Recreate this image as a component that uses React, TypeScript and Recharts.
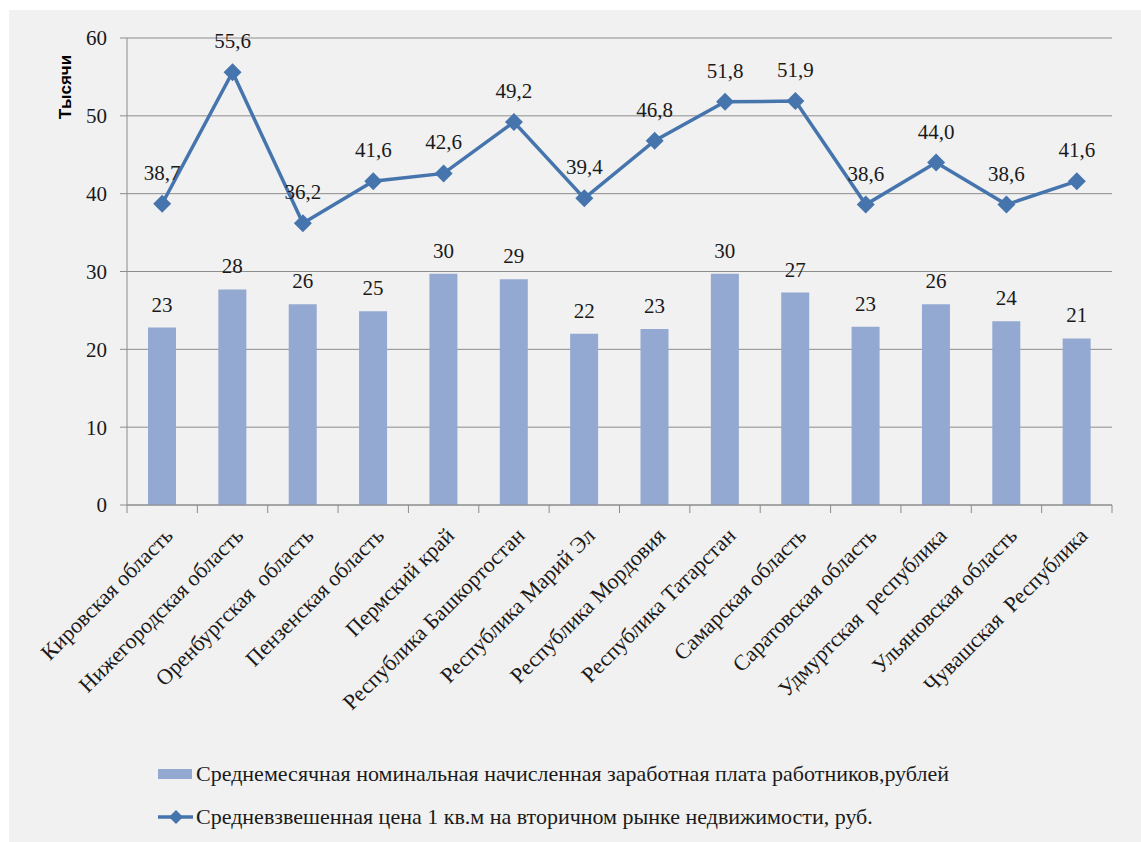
import React from "react";
import {
  ComposedChart,
  Bar,
  Line,
  XAxis,
  YAxis,
  CartesianGrid,
  Legend,
  LabelList,
} from "recharts";

const regions = [
  "Кировская область",
  "Нижегородская область",
  "Оренбургская  область",
  "Пензенская область",
  "Пермский край",
  "Республика Башкортостан",
  "Республика Марий Эл",
  "Республика Мордовия",
  "Республика Татарстан",
  "Самарская область",
  "Саратовская область",
  "Удмуртская  республика",
  "Ульяновская область",
  "Чувашская  Республика",
];

// тыс. руб.
const salary = [22.8, 27.7, 25.8, 24.9, 29.7, 29.0, 22.0, 22.6, 29.7, 27.3, 22.9, 25.8, 23.6, 21.4];
const pricePerSqm = [38.7, 55.6, 36.2, 41.6, 42.6, 49.2, 39.4, 46.8, 51.8, 51.9, 38.6, 44.0, 38.6, 41.6];

const yTicks = [0, 10, 20, 30, 40, 50, 60];

const salaryName =
  "Среднемесячная номинальная начисленная заработная плата работников,рублей";
const priceName =
  "Средневзвешенная цена 1 кв.м на вторичном рынке недвижимости, руб.";

const data = regions.map((region, i) => ({
  region,
  salary: salary[i],
  price: pricePerSqm[i],
}));

const BAR_COLOR = "#93a9d1";
const LINE_COLOR = "#4675ad";
const GRID_COLOR = "#8c8c8c";
const SERIF = "Liberation Serif, Times New Roman, serif";

const Diamond = (props: any) => {
  const { cx, cy } = props;
  if (cx == null || cy == null) return null;
  const r = 9;
  return (
    <path
      d={`M${cx},${cy - r}L${cx + r},${cy}L${cx},${cy + r}L${cx - r},${cy}Z`}
      fill={LINE_COLOR}
      stroke="none"
    />
  );
};

const RegionTick = (props: any) => {
  const { x, y, payload, index, visibleTicksCount, width } = props;
  const half = width / visibleTicksCount / 2;
  const top = y - 8;
  const tx = x + 12;
  const ty = y + 24;
  return (
    <g>
      <line x1={x - half} x2={x - half} y1={top} y2={top + 8} stroke={GRID_COLOR} />
      {index === visibleTicksCount - 1 && (
        <line x1={x + half} x2={x + half} y1={top} y2={top + 8} stroke={GRID_COLOR} />
      )}
      <text
        x={tx}
        y={ty}
        transform={`rotate(-45, ${tx}, ${ty})`}
        textAnchor="end"
        style={{ fontFamily: SERIF, fontSize: 22, fill: "#1a1a1a", whiteSpace: "pre" }}
      >
        {payload.value}
      </text>
    </g>
  );
};

const YLabel = (props: any) => {
  const { viewBox } = props;
  const x = viewBox.x + 56;
  const y = viewBox.y + 49;
  return (
    <text
      x={x}
      y={y}
      transform={`rotate(-90, ${x}, ${y})`}
      textAnchor="middle"
      dominantBaseline="central"
      style={{
        fontFamily: "Liberation Sans, Arial, sans-serif",
        fontWeight: "bold",
        fontSize: 17,
        fill: "#000",
      }}
    >
      Тысячи
    </text>
  );
};

const LegendBox = () => (
  <div style={{ fontFamily: SERIF, fontSize: 22, color: "#1a1a1a" }}>
    <div style={{ display: "flex", alignItems: "center", height: 43 }}>
      <svg width={38} height={20}>
        <rect x={0} y={5} width={34} height={10} fill={BAR_COLOR} />
      </svg>
      <span>{salaryName}</span>
    </div>
    <div style={{ display: "flex", alignItems: "center", height: 43 }}>
      <svg width={38} height={20}>
        <line x1={0} x2={35} y1={10} y2={10} stroke={LINE_COLOR} strokeWidth={3.5} />
        <path d="M18,3L25,10L18,17L11,10Z" fill={LINE_COLOR} />
      </svg>
      <span>{priceName}</span>
    </div>
  </div>
);

const tickStyle = { fontFamily: SERIF, fontSize: 21, fill: "#1a1a1a" };

export default function App() {
  return (
    <div
      style={{
        position: "absolute",
        left: 0,
        top: 0,
        width: 1141,
        height: 842,
        background: "#ffffff",
      }}
    >
      <div
        style={{
          position: "absolute",
          left: 9,
          top: 10,
          width: 1132,
          height: 832,
          background: "#f1f1f1",
        }}
      >
        <ComposedChart
          width={1132}
          height={832}
          data={data}
          margin={{ top: 28, right: 29, left: 0, bottom: 87 }}
          style={{ fontFamily: SERIF }}
        >
          <CartesianGrid vertical={false} stroke={GRID_COLOR} />
          <XAxis
            dataKey="region"
            interval={0}
            height={250}
            tickLine={false}
            tickSize={8}
            tickMargin={0}
            axisLine={{ stroke: GRID_COLOR }}
            tick={<RegionTick />}
          />
          <YAxis
            width={118}
            domain={[0, 60]}
            ticks={yTicks}
            interval={0}
            tickSize={7}
            tickMargin={13}
            tickLine={{ stroke: GRID_COLOR }}
            axisLine={{ stroke: GRID_COLOR }}
            tick={tickStyle}
            label={<YLabel />}
          />
          <Bar
            dataKey="salary"
            name={salaryName}
            fill={BAR_COLOR}
            barSize={28}
            isAnimationActive={false}
          >
            <LabelList
              dataKey="salary"
              position="top"
              offset={16}
              formatter={(v: any) => String(Math.round(Number(v)))}
              style={tickStyle}
            />
          </Bar>
          <Line
            dataKey="price"
            name={priceName}
            stroke={LINE_COLOR}
            strokeWidth={3.5}
            dot={<Diamond />}
            activeDot={false}
            isAnimationActive={false}
          >
            <LabelList
              dataKey="price"
              position="top"
              offset={24}
              formatter={(v: any) => Number(v).toFixed(1).replace(".", ",")}
              style={tickStyle}
            />
          </Line>
          <Legend
            layout="vertical"
            align="center"
            verticalAlign="middle"
            wrapperStyle={{ left: 149, top: 742, width: 980 }}
            content={<LegendBox />}
          />
        </ComposedChart>
      </div>
    </div>
  );
}
